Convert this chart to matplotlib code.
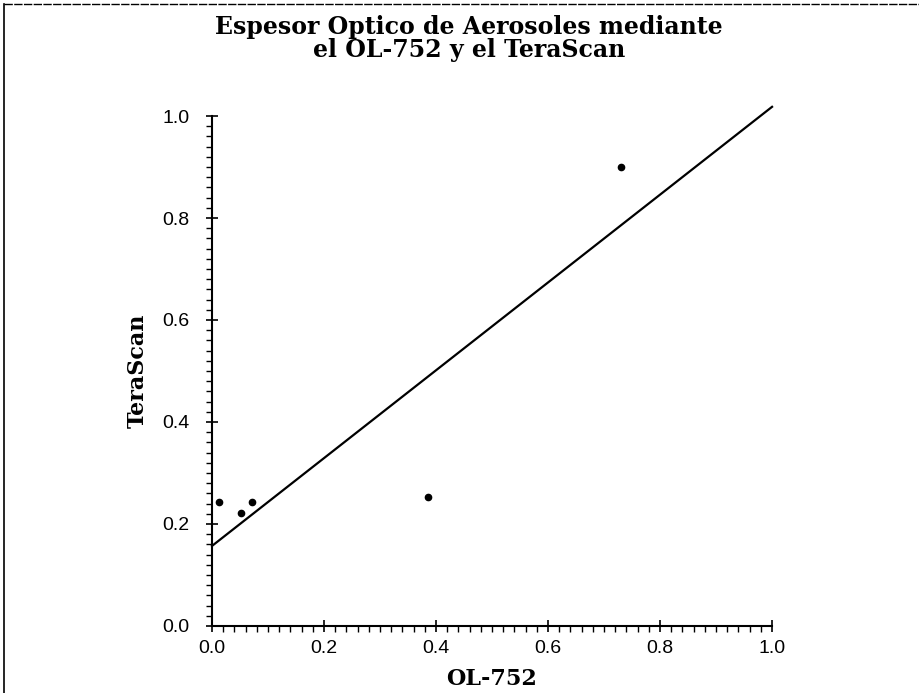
import matplotlib.pyplot as plt
from matplotlib.ticker import MultipleLocator
from matplotlib.lines import Line2D

# measured points (OL-752 vs TeraScan)
ol752 = [0.013, 0.052, 0.071, 0.385, 0.73]
terascan = [0.243, 0.221, 0.243, 0.252, 0.90]

# fitted line
fit_x = [0.0, 1.0]
fit_y = [0.157, 1.018]

ticks = [0.0, 0.2, 0.4, 0.6, 0.8, 1.0]
tick_labels = ['0.0', '0.2', '0.4', '0.6', '0.8', '1.0']

serif = 'DejaVu Serif'
sans = 'Liberation Sans'

fig = plt.figure(figsize=(9.19, 6.93), dpi=100)
ax = fig.add_axes([0.2307, 0.0967, 0.6094, 0.7359])

ax.plot(fit_x, fit_y, color='black', linewidth=1.6, clip_on=False)
ax.plot(ol752, terascan, linestyle='none', marker='o', markersize=4.5,
        color='black')

ax.set_xlim(0, 1)
ax.set_ylim(0, 1)
ax.set_xticks(ticks)
ax.set_yticks(ticks)
ax.set_xticklabels(tick_labels, fontsize=14, family=sans)
ax.set_yticklabels(tick_labels, fontsize=14, family=sans)
ax.xaxis.set_minor_locator(MultipleLocator(0.02))
ax.yaxis.set_minor_locator(MultipleLocator(0.02))
ax.tick_params(which='major', direction='inout', length=8, width=1.2)
ax.tick_params(axis='x', which='major', pad=6)
ax.tick_params(axis='y', which='major', pad=12)
ax.tick_params(which='minor', direction='out', length=4, width=1)

ax.spines['top'].set_visible(False)
ax.spines['right'].set_visible(False)
ax.spines['left'].set_linewidth(1.5)
ax.spines['bottom'].set_linewidth(1.5)

ax.set_xlabel('OL-752', fontsize=16, family=serif, fontweight='bold',
              labelpad=8)
ax.set_ylabel('TeraScan', fontsize=16, family=serif, fontweight='bold',
              labelpad=10)

fig.text(0.51, 0.945, 'Espesor Optico de Aerosoles mediante\nel OL-752 y el TeraScan',
         ha='center', va='center', fontsize=17, family=serif,
         fontweight='bold', linespacing=0.95)

# scanned page border (left and top)
fig.add_artist(Line2D([0.004, 0.004], [0.0, 0.994], transform=fig.transFigure,
                      color='black', linewidth=1.2))
fig.add_artist(Line2D([0.004, 1.0], [0.994, 0.994], transform=fig.transFigure,
                      color='black', linewidth=1.0, linestyle=(0, (6, 1))))

fig.savefig('out.png', dpi=100)
